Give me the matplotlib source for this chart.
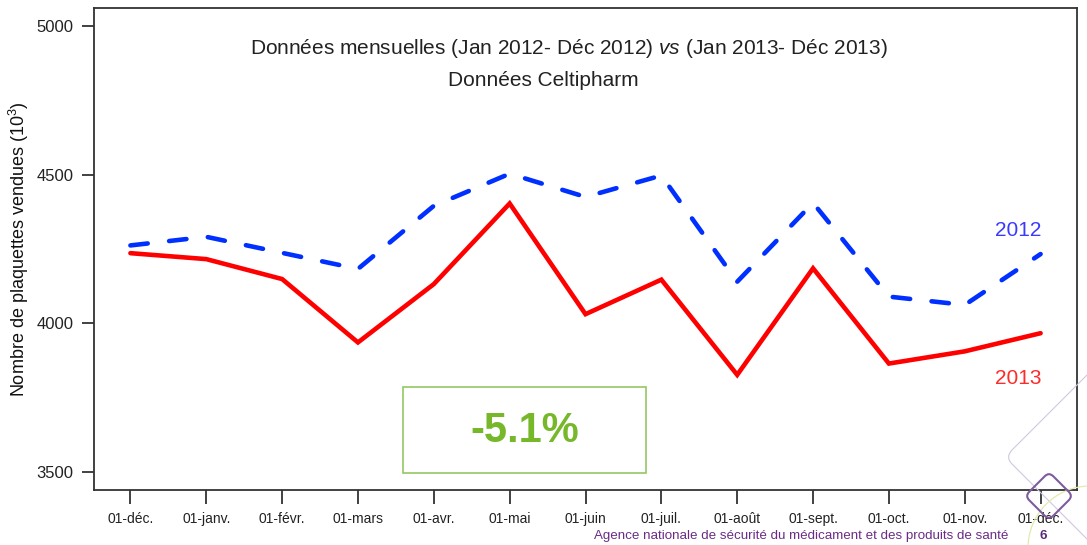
import matplotlib
matplotlib.use("Agg")
import matplotlib.pyplot as plt
import matplotlib.patches as mpatches
import matplotlib.transforms as mtransforms

plt.rcParams['font.family'] = ['Liberation Sans', 'DejaVu Sans']
plt.rcParams['mathtext.fontset'] = 'custom'
plt.rcParams['mathtext.rm'] = 'Liberation Sans'
plt.rcParams['mathtext.it'] = 'Liberation Sans:italic'
plt.rcParams['mathtext.bf'] = 'Liberation Sans:bold'

# ---- data ----
months = ['01-déc.', '01-janv.', '01-févr.', '01-mars', '01-avr.', '01-mai', '01-juin',
          '01-juil.', '01-août', '01-sept.', '01-oct.', '01-nov.', '01-déc.']
sales_2012 = [4262, 4291, 4237, 4183, 4395, 4503, 4425, 4497, 4140, 4405, 4090, 4062, 4233]
sales_2013 = [4236, 4216, 4149, 3936, 4132, 4403, 4031, 4147, 3827, 4185, 3865, 3906, 3967]
y_ticks = [3500, 4000, 4500, 5000]
change_label = '-5.1%'
title_line1 = r"Données mensuelles (Jan 2012- Déc 2012) $\mathit{vs}$ (Jan 2013- Déc 2013)"
title_line2 = "Données Celtipharm"
y_label = r"Nombre de plaquettes vendues (10$^{3}$)"
footer = "Agence nationale de sécurité du médicament et des produits de santé"
page = "6"

W, H = 1087, 545
fig = plt.figure(figsize=(W / 100, H / 100), dpi=100)
ax = fig.add_axes([94 / W, (H - 490) / H, (1077 - 94) / W, (490 - 8) / H])

x = list(range(len(months)))
ax.plot(x, sales_2013, color='#ff0000', lw=3.3, solid_joinstyle='miter', solid_capstyle='round', zorder=3)
ax.plot(x, sales_2012, color='#0030ff', lw=3.3, dashes=(3.8, 4.7), dash_capstyle='round',
        dash_joinstyle='round', zorder=3)

ax.set_xlim(-0.48, 12.48)
ax.set_ylim(3440, 5060)
ax.set_xticks(x)
ax.set_xticklabels(months, fontsize=10, color='#222222')
ax.set_yticks(y_ticks)
ax.set_yticklabels([str(v) for v in y_ticks], fontsize=12, color='#222222')
ax.tick_params(axis='x', length=10, width=1.3, color='#333333', pad=6)
ax.tick_params(axis='y', length=9, width=1.3, color='#333333', pad=6)
for s in ax.spines.values():
    s.set_color('#333333')
    s.set_linewidth(1.3)

ax.set_ylabel(y_label, fontsize=13, color='#111111')
ax.yaxis.set_label_coords((31 - 94) / 983, 0.5)

# titles
ax.text((569 - 94) / 983, (490 - 48) / 482, title_line1, transform=ax.transAxes,
        ha='center', va='center', fontsize=15, color='#222222')
ax.text((543 - 94) / 983, (490 - 80) / 482, title_line2, transform=ax.transAxes,
        ha='center', va='center', fontsize=15, color='#222222')

# series labels
ax.text((1018 - 94) / 983, (490 - 231) / 482, '2012', transform=ax.transAxes,
        ha='center', va='center', fontsize=15, color='#3a3aff')
ax.text((1018 - 94) / 983, (490 - 378) / 482, '2013', transform=ax.transAxes,
        ha='center', va='center', fontsize=15, color='#ff2a2a')

# change box
ax.add_patch(mpatches.Rectangle(((403 - 94) / 983, (490 - 473) / 482), 243 / 983, 86 / 482,
                                transform=ax.transAxes, fill=False, edgecolor='#93c763', lw=1.2))
ax.text((525 - 94) / 983, (490 - 431) / 482, change_label, transform=ax.transAxes,
        ha='center', va='center', fontsize=30, fontweight='bold', color='#76b82a')

# footer
fig.text(1008 / W, 1 - 536 / H, footer, ha='right', va='center', fontsize=9.6, color='#6a2c86')
fig.text(1043 / W, 1 - 536 / H, page, ha='center', va='center', fontsize=9.6,
         fontweight='bold', color='#5a2a78')

# decorative shapes (display pixel coords)
def diamond(cx, cy_top, half_diag, rounding, color, lw, z):
    cy = H - cy_top
    side = half_diag * 2 ** 0.5
    p = mpatches.FancyBboxPatch((cx - side / 2, cy - side / 2), side, side,
                                boxstyle=f'round,pad=0,rounding_size={rounding}',
                                fill=False, edgecolor=color, lw=lw,
                                transform=mtransforms.Affine2D().rotate_deg_around(cx, cy, 45),
                                clip_on=False, zorder=z)
    fig.add_artist(p)

diamond(1125, 457, 120, 10, '#cfc8e0', 0.8, 1)
diamond(1049, 496, 24, 6, '#7d5c9c', 1.5, 5)
arc = mpatches.Arc((1090, H - 548), 124, 124, theta1=90, theta2=180, color='#e2eab0', lw=0.9,
                   transform=mtransforms.IdentityTransform(), clip_on=False)
fig.add_artist(arc)

fig.savefig('out.png', dpi=100)
